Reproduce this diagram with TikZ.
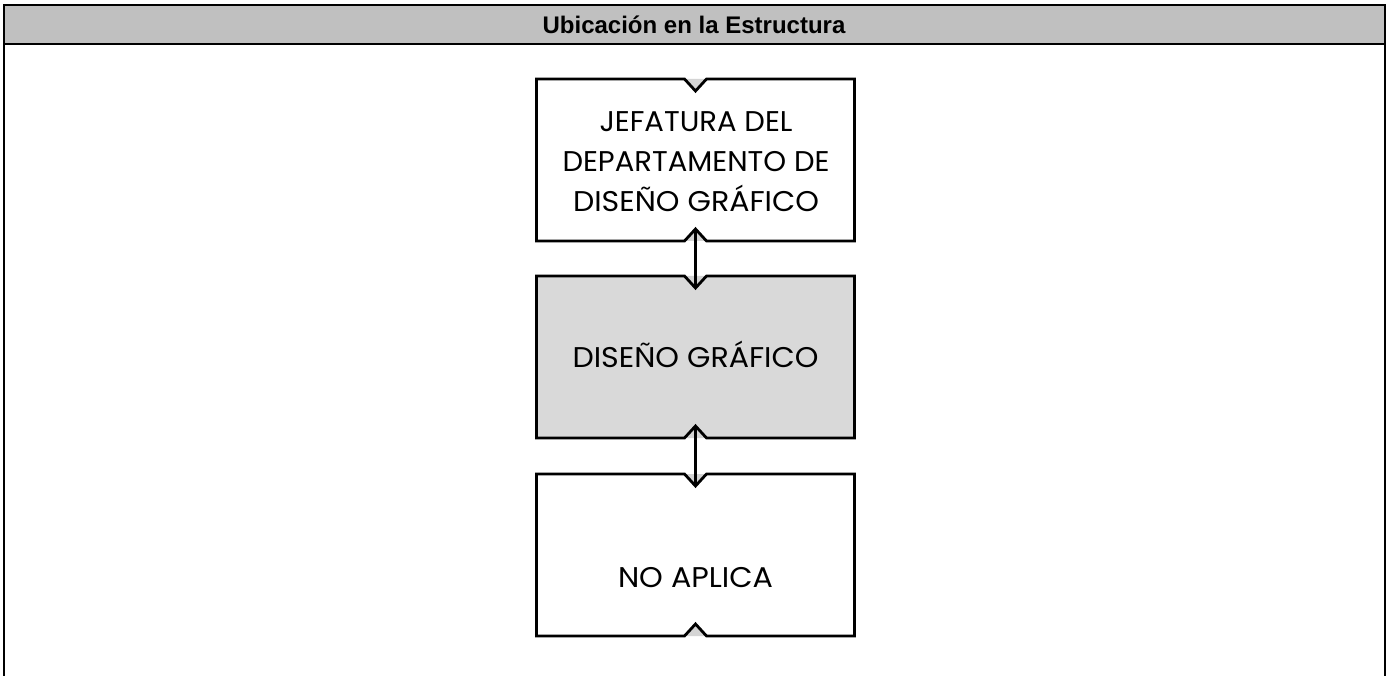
\documentclass[tikz,border=0pt]{standalone}
\usepackage{fontspec}
\usepackage{graphicx}
\setmainfont{Liberation Sans}
\newfontfamily\boxfont{Poppins}
\usetikzlibrary{calc}
\definecolor{headgray}{HTML}{C0C0C0}
\definecolor{boxgray}{HTML}{D9D9D9}
\definecolor{notchgray}{HTML}{D4D4D4}
\newsavebox{\fitlinebox}
\newcommand{\fitline}[2]{%
  \sbox{\fitlinebox}{#2}%
  \pgfmathsetmacro{\fitlineratio}{#1/\the\wd\fitlinebox}%
  \scalebox{\fitlineratio}[1]{\usebox{\fitlinebox}}%
}
\tikzset{
  unitbox/.style={minimum width=318pt, minimum height=162pt, inner sep=0pt, outer sep=0pt},
  boxtext/.style={font={\boxfont\fontsize{28.5}{40}\selectfont}, align=center, inner sep=0pt},
  boxline/.style={line width=2.8pt, line join=miter},
  linkline/.style={line width=2.8pt},
  frameline/.style={line width=2pt}
}
\newcommand{\notchedbox}[2]{%
  \fill[notchgray] ($(#1.north)+(-11,0)$) -- ($(#1.north)+(0,12)$) -- ($(#1.north)+(11,0)$) -- cycle;
  \fill[notchgray] ($(#1.south)+(-11,0)$) -- ($(#1.south)+(0,-12)$) -- ($(#1.south)+(11,0)$) -- cycle;
  \filldraw[boxline, fill=#2] (#1.north west) -- ($(#1.north)+(-11,0)$) -- ($(#1.north)+(0,12)$) -- ($(#1.north)+(11,0)$) -- (#1.north east)
    -- (#1.south east) -- ($(#1.south)+(11,0)$) -- ($(#1.south)+(0,-12)$) -- ($(#1.south)+(-11,0)$) -- (#1.south west) -- cycle;
  \coordinate (#1top) at ($(#1.north)+(0,12)$);
  \coordinate (#1bot) at ($(#1.south)+(0,-12)$);
}
\begin{document}
\begin{tikzpicture}[x=1pt,y=-1pt]
\clip (0,0) rectangle (1386,676);
\fill[white] (0,0) rectangle (1386,676);
% header
\node[fill=headgray, minimum width=1381pt, minimum height=39pt, inner sep=0pt, anchor=north west] (head) at (4,5) {};
\node[font=\bfseries\fontsize{24}{28}\selectfont] (headtext) at (694,24.5) {Ubicación en la Estructura};
\draw[frameline] (4,700) -- (4,5) -- (1385,5) -- (1385,700);
\draw[frameline] (4,44) -- (1385,44);
% boxes
\node[unitbox] (b1) at (695.5,160) {};
\node[unitbox] (b2) at (695.5,357) {};
\node[unitbox] (b3) at (695.5,555) {};
\notchedbox{b1}{white}
\notchedbox{b2}{boxgray}
\notchedbox{b3}{white}
\node[boxtext] (t1) at (696,162) {\fitline{193}{JEFATURA DEL}\\\fitline{267}{DEPARTAMENTO DE}\\\fitline{246}{DISEÑO GRÁFICO}};
\node[boxtext, anchor=base] (t2) at (695.5,367) {\fitline{246}{DISEÑO GRÁFICO}};
\node[boxtext, anchor=base] (t3) at (695.5,587) {\fitline{155}{NO APLICA}};
% connectors
\draw[linkline] (b1bot) -- (b2top);
\draw[linkline] (b2bot) -- (b3top);
\end{tikzpicture}
\end{document}
